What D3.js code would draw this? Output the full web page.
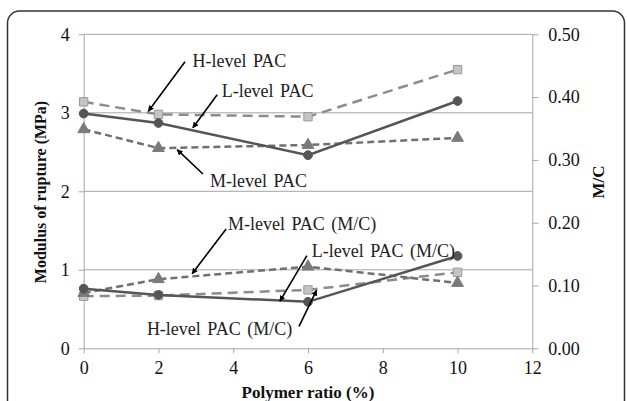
<!DOCTYPE html>
<html><head><meta charset="utf-8">
<script src="https://cdn.jsdelivr.net/npm/d3@7"></script>
<style>
body{margin:0;background:#fff}svg{display:block}
svg text{font-family:"Liberation Serif","Tinos","Times New Roman",serif;}
</style>
</head><body><svg id="c" width="627" height="401"></svg>
<script>
const ratios = [0, 2, 6, 10];
const hMOR = [3.14, 2.98, 2.95, 3.55];
const lMOR = [2.99, 2.87, 2.46, 3.15];
const mMOR = [2.79, 2.55, 2.59, 2.68];
const hMC = [0.083, 0.084, 0.093, 0.121];
const lMC = [0.095, 0.085, 0.074, 0.147];
const mMC = [0.088, 0.110, 0.130, 0.104];
const xTicks = [0, 2, 4, 6, 8, 10, 12];
const yLeftTicks = [0, 1, 2, 3, 4];
const yRightTicks = [0, 0.1, 0.2, 0.3, 0.4, 0.5];
const labels = ["H-level PAC", "L-level PAC", "M-level PAC", "M-level PAC (M/C)", "L-level PAC (M/C)", "H-level PAC (M/C)"];
// annotation anchors in data units (x, left-axis value)
const labelPos = [[2.91,3.58],[3.69,3.20],[3.38,2.05],[3.86,1.51],[6.10,1.16],[1.69,0.17]];
const arrowFrom = [[2.71,3.65],[3.57,3.23],[3.19,2.22],[3.81,1.52],[5.97,1.18],[5.76,0.28]];
const arrowTo = [[1.73,3.02],[2.92,2.81],[2.50,2.53],[2.90,0.95],[5.25,0.60],[6.23,0.74]];

const svg = d3.select("#c");
const L = 83.7, R = 532.3, T = 34.3, B = 348.3;
const x = d3.scaleLinear().domain([0,12]).range([L,R]);
const yL = d3.scaleLinear().domain([0,4]).range([B,T]);
const yR = d3.scaleLinear().domain([0,0.5]).range([B,T]);

svg.append("defs").append("marker").attr("id","ah").attr("viewBox","0 0 10 10")
  .attr("refX",9).attr("refY",5).attr("markerWidth",6).attr("markerHeight",6)
  .attr("markerUnits","userSpaceOnUse").attr("orient","auto")
  .append("path").attr("d","M0,0L10,5L0,10z").attr("fill","#000");

// frame
svg.append("rect").attr("x",7.5).attr("y",11).attr("width",617).attr("height",440)
  .attr("rx",12).attr("fill","none").attr("stroke","#333").attr("stroke-width",1.5);

const gc = "#a6a6a6";
svg.append("g").selectAll("line").data(yLeftTicks.filter(d=>d>0)).join("line")
  .attr("x1",L).attr("x2",R).attr("y1",d=>yL(d)).attr("y2",d=>yL(d))
  .attr("stroke",gc).attr("stroke-width",1);

function styleAxis(g){
  g.attr("font-family",null).attr("font-size",null);
  g.select(".domain").attr("stroke",gc).attr("stroke-width",1);
  g.selectAll(".tick line").attr("stroke",gc);
  g.selectAll("text").attr("font-size",18).attr("fill","#111");
}
svg.append("g").attr("transform",`translate(${L},0)`)
  .call(d3.axisLeft(yL).tickValues(yLeftTicks).tickFormat(d3.format("d")).tickSize(5).tickSizeOuter(0).tickPadding(9))
  .call(styleAxis);
svg.append("g").attr("transform",`translate(${R},0)`)
  .call(d3.axisRight(yR).tickValues(yRightTicks).tickFormat(d3.format(".2f")).tickSize(6).tickSizeOuter(0).tickPadding(10))
  .call(styleAxis);
svg.append("g").attr("transform",`translate(0,${B})`)
  .call(d3.axisBottom(x).tickValues(xTicks).tickFormat(d3.format("d")).tickSize(5).tickSizeOuter(0).tickPadding(8))
  .call(styleAxis);

// titles
svg.append("text").attr("transform",`translate(46,192) rotate(-90)`)
  .attr("text-anchor","middle").attr("font-weight","bold")
  .attr("font-size",16).attr("fill","#111").text("Modulus of rupture (MPa)");
svg.append("text").attr("transform",`translate(604,182) rotate(-90)`)
  .attr("text-anchor","middle").attr("font-weight","bold")
  .attr("font-size",17).attr("fill","#111").text("M/C");
svg.append("text").attr("x",308).attr("y",398)
  .attr("text-anchor","middle").attr("font-weight","bold")
  .attr("font-size",17).attr("fill","#111").text("Polymer ratio (%)");

const series = [
  {v:hMOR, y:yL, kind:"sq"},
  {v:mMOR, y:yL, kind:"tri"},
  {v:lMOR, y:yL, kind:"ci"},
  {v:hMC, y:yR, kind:"sq"},
  {v:mMC, y:yR, kind:"tri"},
  {v:lMC, y:yR, kind:"ci"}
];
const sty = {
  sq:{stroke:"#8c8c8c", dash:"10,6", fill:"#c4c4c4", mstroke:"#9a9a9a"},
  tri:{stroke:"#707070", dash:"7,4", fill:"#7a7a7a", mstroke:"#7a7a7a"},
  ci:{stroke:"#555", dash:null, fill:"#555", mstroke:"#555"}
};
series.forEach(s=>{
  const st = sty[s.kind];
  const pts = ratios.map((r,i)=>[x(r), s.y(s.v[i])]);
  svg.append("path").attr("d",d3.line()(pts)).attr("fill","none")
    .attr("stroke",st.stroke).attr("stroke-width",2.5).attr("stroke-dasharray",st.dash);
  const sym = s.kind==="sq"?d3.symbolSquare:(s.kind==="tri"?d3.symbolTriangle:d3.symbolCircle);
  const size = s.kind==="sq"?70:60;
  svg.append("g").selectAll("path").data(pts).join("path")
    .attr("transform",d=>`translate(${d[0]},${d[1]})`)
    .attr("d",d3.symbol(sym,size)).attr("fill",st.fill).attr("stroke",st.mstroke).attr("stroke-width",1);
});

labels.forEach((t,i)=>{
  svg.append("text").attr("x",x(labelPos[i][0])).attr("y",yL(labelPos[i][1]))
    .attr("font-size",18).attr("fill","#222").attr("word-spacing",2).text(t);
  svg.append("line").attr("x1",x(arrowFrom[i][0])).attr("y1",yL(arrowFrom[i][1]))
    .attr("x2",x(arrowTo[i][0])).attr("y2",yL(arrowTo[i][1]))
    .attr("stroke","#000").attr("stroke-width",1.6).attr("marker-end","url(#ah)");
});
</script></body></html>
